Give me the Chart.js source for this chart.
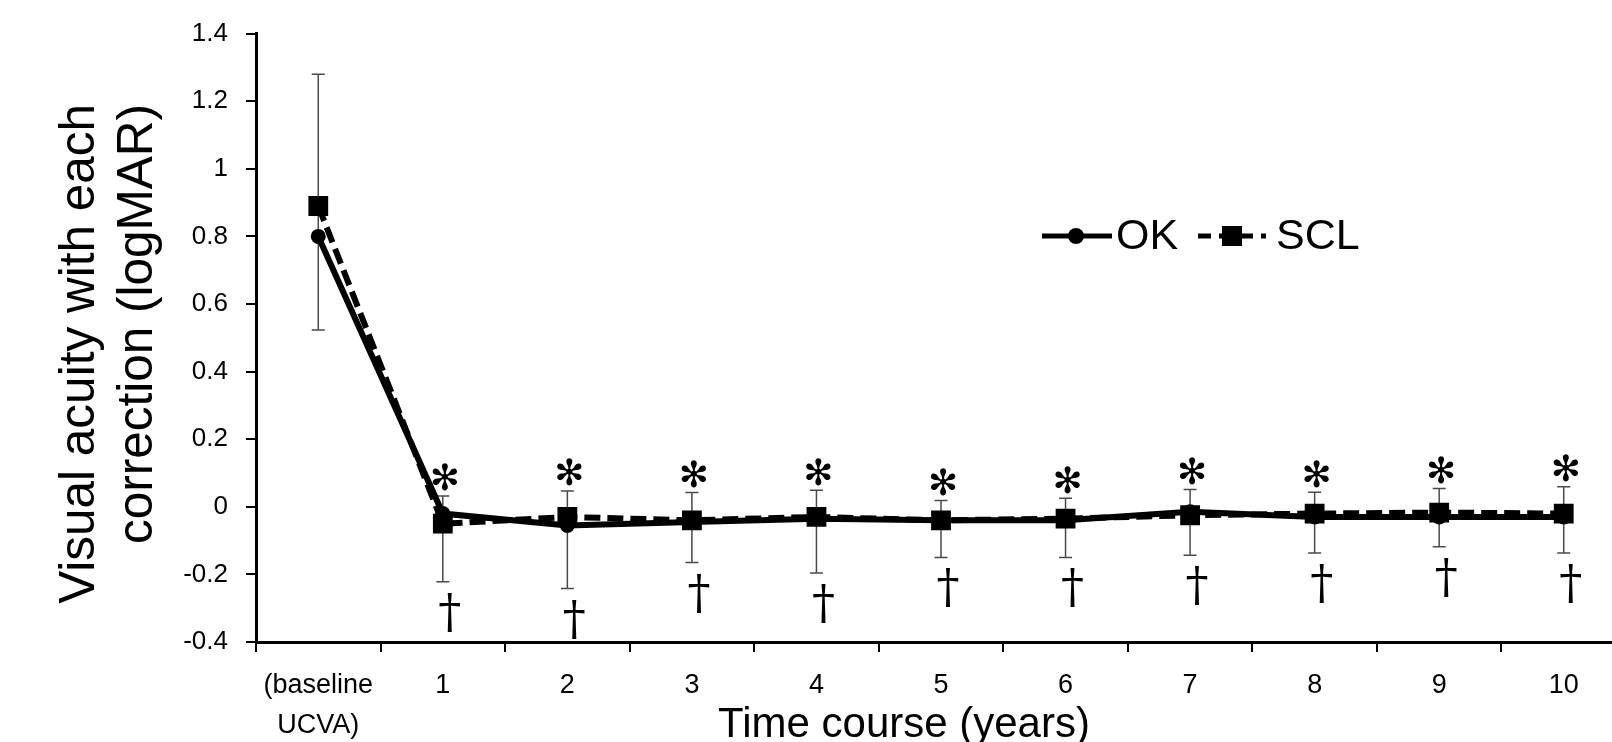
<!DOCTYPE html>
<html>
<head>
<meta charset="utf-8">
<script src="https://cdn.jsdelivr.net/npm/chart.js@4.4.1/dist/chart.umd.min.js"></script>
<style>
  html, body { margin: 0; padding: 0; background: #fff; overflow: hidden; }
  #wrap { width: 1640px; height: 742px; }
</style>
</head>
<body>
<div id="wrap"><canvas id="vaChart" width="1640" height="742"></canvas></div>
<script>
// categories
const xLabels = [['(baseline', 'UCVA)'], '1', '2', '3', '4', '5', '6', '7', '8', '9', '10'];

// mean logMAR for each group
const okMean = [0.80, -0.02, -0.055, -0.045, -0.035, -0.04, -0.04, -0.015, -0.03, -0.03, -0.03];
const sclMean = [0.89, -0.05, -0.03, -0.04, -0.03, -0.04, -0.035, -0.025, -0.02, -0.017, -0.02];

// error bar ends (logMAR)
const errHigh = [1.28, 0.032, 0.047, 0.042, 0.049, 0.019, 0.025, 0.051, 0.043, 0.054, 0.059];
const errLow = [0.523, -0.222, -0.242, -0.165, -0.196, -0.15, -0.15, -0.143, -0.137, -0.118, -0.137];

// significance marks
const asterisks = [false, true, true, true, true, true, true, true, true, true, true];
const daggers = [false, true, true, true, true, true, true, true, true, true, true];

// y axis ticks
const yMin = -0.4;
const yMax = 1.4;
const yStep = 0.2;

const FONT = '"Liberation Sans", Arial, sans-serif';

const errorBars = {
  id: 'errorBars',
  beforeDatasetsDraw(chart) {
    const { ctx, scales: { x, y } } = chart;
    ctx.save();
    ctx.strokeStyle = '#4a4a4a';
    ctx.lineWidth = 1.5;
    errHigh.forEach((hi, i) => {
      const px = x.getPixelForValue(i);
      const top = y.getPixelForValue(hi);
      const bot = y.getPixelForValue(errLow[i]);
      ctx.beginPath();
      ctx.moveTo(px, top);
      ctx.lineTo(px, bot);
      ctx.moveTo(px - 6.5, top);
      ctx.lineTo(px + 6.5, top);
      ctx.moveTo(px - 6.5, bot);
      ctx.lineTo(px + 6.5, bot);
      ctx.stroke();
    });
    ctx.restore();
  },
};

const marks = {
  id: 'marks',
  afterDatasetsDraw(chart) {
    const { ctx, scales: { x, y } } = chart;
    ctx.save();
    ctx.fillStyle = '#000';
    ctx.textAlign = 'center';
    ctx.textBaseline = 'middle';
    asterisks.forEach((on, i) => {
      if (!on) return;
      ctx.font = '36px "DejaVu Sans"';
      ctx.fillText('\u273B', x.getPixelForValue(i) + 2, y.getPixelForValue(errHigh[i]) - 15);
    });
    daggers.forEach((on, i) => {
      if (!on) return;
      ctx.font = '46px "DejaVu Serif"';
      ctx.fillText('\u2020', x.getPixelForValue(i) + 7, y.getPixelForValue(errLow[i]) + 33);
    });
    ctx.restore();
  },
};

const titlesAndLegend = {
  id: 'titlesAndLegend',
  afterDraw(chart) {
    const { ctx } = chart;
    ctx.save();
    ctx.fillStyle = '#000';

    // y title, two lines, end-aligned at the top
    ctx.font = '49.5px ' + FONT;
    ctx.textBaseline = 'alphabetic';
    ctx.textAlign = 'right';
    [['Visual acuity with each', 94], ['correction (logMAR)', 152]].forEach(([t, bx]) => {
      ctx.save();
      ctx.translate(bx, 104);
      ctx.rotate(-Math.PI / 2);
      ctx.fillText(t, 0, 0);
      ctx.restore();
    });

    // x title
    ctx.font = '42px ' + FONT;
    ctx.textAlign = 'center';
    ctx.fillText('Time course (years)', 904, 737);

    // legend
    const ly = 236;
    ctx.strokeStyle = '#000';
    ctx.lineWidth = 5;
    ctx.beginPath();
    ctx.moveTo(1042, ly);
    ctx.lineTo(1112, ly);
    ctx.stroke();
    ctx.beginPath();
    ctx.arc(1076, ly, 8, 0, Math.PI * 2);
    ctx.fill();

    ctx.setLineDash([13, 8]);
    ctx.beginPath();
    ctx.moveTo(1198, ly);
    ctx.lineTo(1266, ly);
    ctx.stroke();
    ctx.setLineDash([]);
    ctx.fillRect(1222, ly - 10, 20, 20);

    ctx.font = '43px ' + FONT;
    ctx.textAlign = 'left';
    ctx.textBaseline = 'middle';
    ctx.fillText('OK', 1116, ly + 1);
    ctx.fillText('SCL', 1276, ly + 1);
    ctx.restore();
  },
};

new Chart(document.getElementById('vaChart'), {
  type: 'line',
  data: {
    labels: xLabels,
    datasets: [
      {
        label: 'OK',
        data: okMean,
        borderColor: '#000',
        backgroundColor: '#000',
        borderWidth: 6,
        pointStyle: 'circle',
        pointRadius: 7.5,
        pointBorderWidth: 0,
        tension: 0,
        order: 1,
      },
      {
        label: 'SCL',
        data: sclMean,
        borderColor: '#000',
        backgroundColor: '#000',
        borderWidth: 6,
        borderDash: [16, 7],
        pointStyle: 'rect',
        pointRadius: 14,
        pointBorderWidth: 0,
        tension: 0,
        order: 0,
      },
    ],
  },
  options: {
    responsive: false,
    animation: false,
    layout: { padding: { top: 31, right: 10, left: 0, bottom: 0 } },
    plugins: {
      legend: { display: false },
      tooltip: { enabled: false },
    },
    scales: {
      x: {
        type: 'category',
        offset: true,
        grid: {
          offset: true,
          drawOnChartArea: false,
          drawTicks: true,
          tickLength: 10,
          color: '#000',
          lineWidth: 2,
        },
        border: { color: '#000', width: 3 },
        ticks: {
          color: '#000',
          font: { family: FONT, size: 27, lineHeight: 1.5 },
          padding: 13,
          maxRotation: 0,
          autoSkip: false,
        },
        afterFit(scale) {
          scale.height = 100;
        },
      },
      y: {
        min: yMin,
        max: yMax,
        grid: {
          drawOnChartArea: false,
          drawTicks: true,
          tickLength: 10,
          color: '#000',
          lineWidth: 2,
        },
        border: { color: '#000', width: 3 },
        ticks: {
          stepSize: yStep,
          color: '#000',
          font: { family: FONT, size: 26 },
          padding: 18,
          callback: (v) => String(Math.round(v * 10) / 10),
        },
        afterFit(scale) {
          scale.width = 256;
        },
      },
    },
  },
  plugins: [errorBars, marks, titlesAndLegend],
});
</script>
</body>
</html>
